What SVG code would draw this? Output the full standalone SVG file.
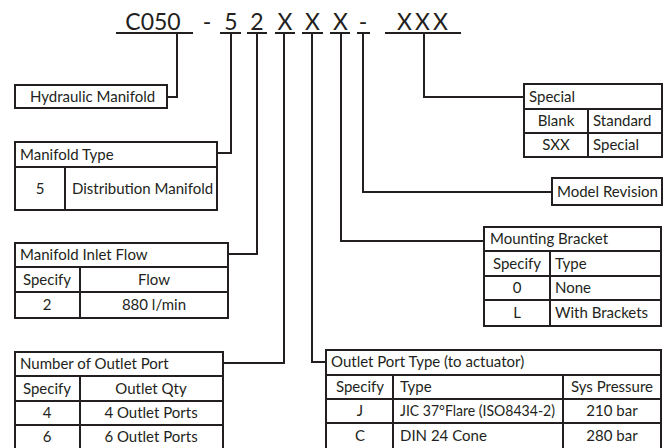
<svg xmlns="http://www.w3.org/2000/svg" width="667" height="448" viewBox="0 0 667 448">
<style>
text{font-family:Lato,"Liberation Sans",sans-serif;fill:#231f20;font-size:15px}
.h{font-size:23px}
.c{text-anchor:middle}
.b{fill:#fff;stroke:#231f20;stroke-width:2}
.l{stroke:#231f20;stroke-width:2;fill:none}
</style>
<rect width="667" height="448" fill="#fff"/>
<g id="header">
<text class="h c" x="153" y="30">C050</text>
<text class="h c" x="207" y="30">-</text>
<text class="h c" x="231" y="30">5</text>
<text class="h c" x="257" y="30">2</text>
<text class="h c" x="285" y="30">X</text>
<text class="h c" x="312.5" y="30">X</text>
<text class="h c" x="340.5" y="30">X</text>
<text class="h c" x="363" y="30">-</text>
<text class="h" x="397" y="30" textLength="51" lengthAdjust="spacing">XXX</text>
<path class="l" d="M116 33H193M220 33H241M247 33H267M275 33H295M302 33H323M330 33H350M357 33H370M385 33H461"/>
</g>
<g id="connectors">
<path class="l" d="M177 33V97H167"/>
<path class="l" d="M231 33V153H217"/>
<path class="l" d="M257 33V254H228"/>
<path class="l" d="M284 33V363H223"/>
<path class="l" d="M312 33V362H326"/>
<path class="l" d="M341 33V241H484"/>
<path class="l" d="M363 33V192H552"/>
<path class="l" d="M424 33V97H524"/>
</g>
<g id="hydraulic-manifold">
<rect class="b" x="15" y="85" width="152" height="23"/>
<text x="30" y="102">Hydraulic Manifold</text>
</g>
<g id="manifold-type">
<rect class="b" x="15" y="142" width="202" height="68"/>
<path class="l" d="M15 167H217M65 167V210"/>
<text x="20" y="160">Manifold Type</text>
<text class="c" x="40" y="194">5</text>
<text x="72" y="194">Distribution Manifold</text>
</g>
<g id="manifold-inlet-flow">
<rect class="b" x="15" y="243" width="213" height="75"/>
<path class="l" d="M15 267H228M15 292H228M80 267V318"/>
<text x="20" y="260">Manifold Inlet Flow</text>
<text class="c" x="47" y="285">Specify</text>
<text class="c" x="154" y="285">Flow</text>
<text class="c" x="47" y="310">2</text>
<text class="c" x="154" y="310">880 l/min</text>
</g>
<g id="number-of-outlet-port">
<rect class="b" x="15" y="352" width="208" height="98"/>
<path class="l" d="M15 376H223M15 401H223M15 425H223M80 376V450"/>
<text x="20" y="369">Number of Outlet Port</text>
<text class="c" x="47" y="394">Specify</text>
<text class="c" x="151" y="394">Outlet Qty</text>
<text class="c" x="47" y="418">4</text>
<text class="c" x="151" y="418">4 Outlet Ports</text>
<text class="c" x="47" y="442">6</text>
<text class="c" x="151" y="442">6 Outlet Ports</text>
</g>
<g id="special">
<rect class="b" x="524" y="84" width="138" height="73"/>
<path class="l" d="M524 109H662M524 133H662M588 109V157"/>
<text x="529" y="102">Special</text>
<text class="c" x="556" y="126">Blank</text>
<text x="593" y="126">Standard</text>
<text class="c" x="556" y="150">SXX</text>
<text x="593" y="150">Special</text>
</g>
<g id="model-revision">
<rect class="b" x="552" y="178" width="110" height="27"/>
<text x="557" y="197">Model Revision</text>
</g>
<g id="mounting-bracket">
<rect class="b" x="484" y="227" width="177" height="99"/>
<path class="l" d="M484 251H661M484 276H661M484 300H661M550 251V326"/>
<text x="490" y="244">Mounting Bracket</text>
<text class="c" x="517" y="269">Specify</text>
<text x="555" y="269">Type</text>
<text class="c" x="517" y="293">0</text>
<text x="555" y="293">None</text>
<text class="c" x="517" y="318">L</text>
<text x="555" y="318">With Brackets</text>
</g>
<g id="outlet-port-type">
<rect class="b" x="326" y="350" width="335" height="100"/>
<path class="l" d="M326 375H661M326 399H661M326 423H661M393 375V450M563 375V450"/>
<text x="331" y="367">Outlet Port Type (to actuator)</text>
<text class="c" x="360" y="392">Specify</text>
<text x="400" y="392">Type</text>
<text class="c" x="612" y="392">Sys Pressure</text>
<text class="c" x="360" y="416">J</text>
<text x="400" y="416" textLength="155" lengthAdjust="spacingAndGlyphs">JIC 37°Flare (ISO8434-2)</text>
<text class="c" x="612" y="416">210 bar</text>
<text class="c" x="360" y="441">C</text>
<text x="400" y="441">DIN 24 Cone</text>
<text class="c" x="612" y="441">280 bar</text>
</g>
</svg>
